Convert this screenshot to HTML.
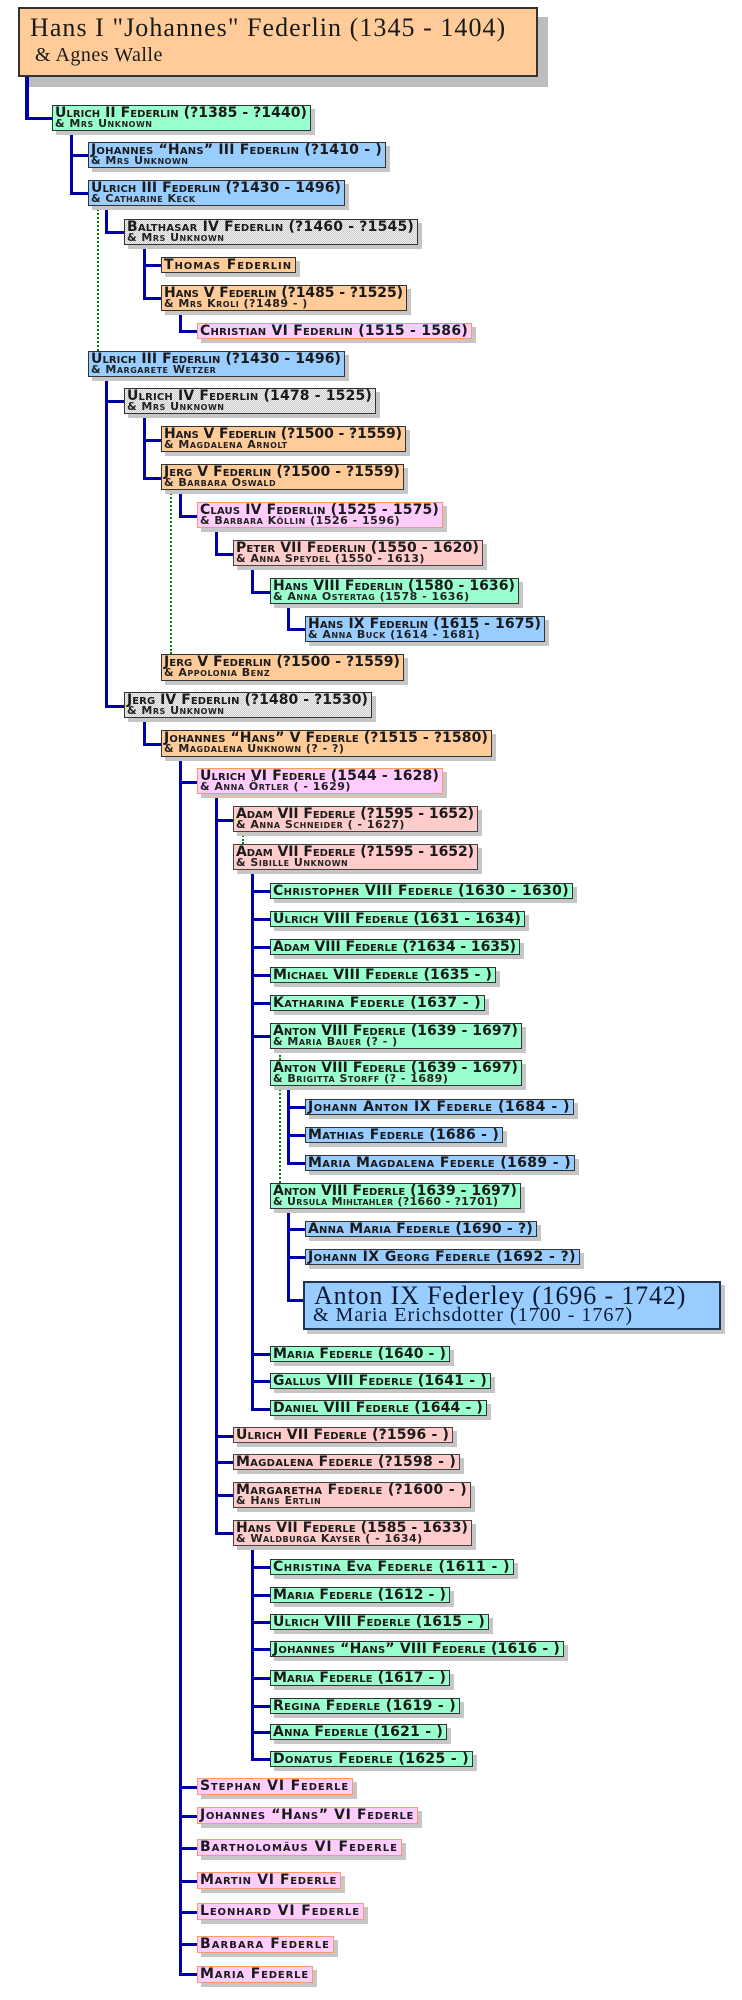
<!DOCTYPE html>
<html><head><meta charset="utf-8">
<style>
html,body{margin:0;padding:0;background:#fff;}
#pg{position:relative;width:742px;height:2000px;overflow:hidden;background:#fff;}
.b{position:absolute;box-sizing:border-box;border:1px solid #333;box-shadow:4px 4px 0 #c6c6c6;padding:1px 0 0 2px;white-space:nowrap;color:#1a1a1a;}
.n{font:bold 14px/12px "DejaVu Sans",sans-serif;font-variant:small-caps;letter-spacing:.3px;white-space:nowrap;}
.s{font:bold 11px/9px "DejaVu Sans",sans-serif;font-variant:small-caps;letter-spacing:.5px;white-space:nowrap;color:#222;}
.o{background:#ffcc99;}
.g{background:#99ffcc;}
.bl{background:#99ccff;}
.p{background:#ffccff;border-color:#ff9966;}
.r{background:#ffcccc;border-color:#444;}
.gr{background:repeating-conic-gradient(#c9c9c9 0% 25%,#f2f2f2 0% 50%) 0 0/2px 2px;}
.v{position:absolute;width:3px;background:#0000aa;}
.h{position:absolute;height:3px;background:#0000aa;}
.d{position:absolute;width:0;border-left:2px dotted #008000;}
.big{position:absolute;font-family:"Liberation Serif",serif;color:#1a1a1a;white-space:nowrap;}
</style></head><body><div id="pg">

<!-- top box -->
<div class="b o" style="left:18px;top:7px;width:520px;height:70px;border:2px solid #333;box-shadow:10px 10px 0 #bdbdbd;"></div>
<div class="big" style="left:30px;top:15px;font-size:26px;line-height:26px;letter-spacing:1.05px;">Hans I "Johannes" Federlin (1345 - 1404)</div>
<div class="big" style="left:35px;top:45px;font-size:20px;line-height:20px;letter-spacing:.5px;">&amp; Agnes Walle</div>

<!-- vertical lines -->
<div class="v" style="left:25px;top:77px;height:43px;width:4px"></div>
<div class="v" style="left:70px;top:131px;height:64px"></div>
<div class="v" style="left:105px;top:206px;height:28px"></div>
<div class="v" style="left:143px;top:245px;height:55px"></div>
<div class="v" style="left:179px;top:311px;height:22px"></div>
<div class="v" style="left:105px;top:377px;height:331px"></div>
<div class="v" style="left:143px;top:414px;height:66px"></div>
<div class="v" style="left:179px;top:490px;height:28px"></div>
<div class="v" style="left:215px;top:528px;height:28px"></div>
<div class="v" style="left:251px;top:566px;height:28px"></div>
<div class="v" style="left:287px;top:604px;height:27px"></div>
<div class="v" style="left:143px;top:718px;height:28px"></div>
<div class="v" style="left:179px;top:757px;height:1219px"></div>
<div class="v" style="left:215px;top:794px;height:741px"></div>
<div class="v" style="left:251px;top:870px;height:541px"></div>
<div class="v" style="left:287px;top:1086px;height:79px"></div>
<div class="v" style="left:287px;top:1208px;height:94px"></div>
<div class="v" style="left:251px;top:1546px;height:215px"></div>

<!-- horizontal connectors -->
<div class="h" style="left:25px;top:117px;width:27px"></div>
<div class="h" style="left:70px;top:154px;width:18px"></div>
<div class="h" style="left:70px;top:192px;width:18px"></div>
<div class="h" style="left:105px;top:231px;width:19px"></div>
<div class="h" style="left:143px;top:264px;width:18px"></div>
<div class="h" style="left:143px;top:297px;width:18px"></div>
<div class="h" style="left:179px;top:330px;width:18px"></div>
<div class="h" style="left:105px;top:400px;width:19px"></div>
<div class="h" style="left:143px;top:439px;width:18px"></div>
<div class="h" style="left:143px;top:477px;width:18px"></div>
<div class="h" style="left:179px;top:515px;width:18px"></div>
<div class="h" style="left:215px;top:553px;width:18px"></div>
<div class="h" style="left:251px;top:591px;width:19px"></div>
<div class="h" style="left:287px;top:628px;width:18px"></div>
<div class="h" style="left:105px;top:705px;width:19px"></div>
<div class="h" style="left:143px;top:743px;width:18px"></div>
<div class="h" style="left:179px;top:781px;width:18px"></div>
<div class="h" style="left:215px;top:819px;width:18px"></div>
<div class="h" style="left:251px;top:890px;width:19px"></div>
<div class="h" style="left:251px;top:918px;width:19px"></div>
<div class="h" style="left:251px;top:946px;width:19px"></div>
<div class="h" style="left:251px;top:974px;width:19px"></div>
<div class="h" style="left:251px;top:1002px;width:19px"></div>
<div class="h" style="left:251px;top:1035px;width:19px"></div>
<div class="h" style="left:287px;top:1106px;width:18px"></div>
<div class="h" style="left:287px;top:1134px;width:18px"></div>
<div class="h" style="left:287px;top:1162px;width:18px"></div>
<div class="h" style="left:287px;top:1228px;width:18px"></div>
<div class="h" style="left:287px;top:1256px;width:18px"></div>
<div class="h" style="left:287px;top:1299px;width:16px"></div>
<div class="h" style="left:251px;top:1353px;width:19px"></div>
<div class="h" style="left:251px;top:1380px;width:19px"></div>
<div class="h" style="left:251px;top:1408px;width:19px"></div>
<div class="h" style="left:215px;top:1435px;width:18px"></div>
<div class="h" style="left:215px;top:1461px;width:18px"></div>
<div class="h" style="left:215px;top:1494px;width:18px"></div>
<div class="h" style="left:215px;top:1532px;width:18px"></div>
<div class="h" style="left:251px;top:1566px;width:19px"></div>
<div class="h" style="left:251px;top:1594px;width:19px"></div>
<div class="h" style="left:251px;top:1621px;width:19px"></div>
<div class="h" style="left:251px;top:1648px;width:19px"></div>
<div class="h" style="left:251px;top:1677px;width:19px"></div>
<div class="h" style="left:251px;top:1705px;width:19px"></div>
<div class="h" style="left:251px;top:1731px;width:19px"></div>
<div class="h" style="left:251px;top:1758px;width:19px"></div>
<div class="h" style="left:179px;top:1786px;width:18px"></div>
<div class="h" style="left:179px;top:1815px;width:18px"></div>
<div class="h" style="left:179px;top:1847px;width:18px"></div>
<div class="h" style="left:179px;top:1880px;width:18px"></div>
<div class="h" style="left:179px;top:1911px;width:18px"></div>
<div class="h" style="left:179px;top:1943px;width:18px"></div>
<div class="h" style="left:179px;top:1973px;width:18px"></div>

<!-- green dotted marriage links -->
<div class="d" style="left:97px;top:206px;height:145px"></div>
<div class="d" style="left:170px;top:490px;height:164px"></div>
<div class="d" style="left:242px;top:832px;height:12px"></div>
<div class="d" style="left:279px;top:1048px;height:12px"></div>
<div class="d" style="left:279px;top:1086px;height:97px"></div>

<!-- boxes -->
<div class="b g" style="left:52px;top:105px;width:259px;height:26px"><div class="n"><span>Ulrich II Federlin (?1385 - ?1440)</span></div><div class="s">&amp; Mrs Unknown</div></div>
<div class="b bl" style="left:88px;top:142px;width:298px;height:26px"><div class="n"><span>Johannes “Hans” III Federlin (?1410 - )</span></div><div class="s">&amp; Mrs Unknown</div></div>
<div class="b bl" style="left:88px;top:180px;width:257px;height:26px"><div class="n"><span>Ulrich III Federlin (?1430 - 1496)</span></div><div class="s">&amp; Catharine Keck</div></div>
<div class="b gr" style="left:124px;top:219px;width:294px;height:26px"><div class="n"><span>Balthasar IV Federlin (?1460 - ?1545)</span></div><div class="s">&amp; Mrs Unknown</div></div>
<div class="b o" style="left:161px;top:257px;width:135px;height:16px"><div class="n"><span>Thomas Federlin</span></div></div>
<div class="b o" style="left:161px;top:285px;width:246px;height:26px"><div class="n"><span>Hans V Federlin (?1485 - ?1525)</span></div><div class="s">&amp; Mrs Kroli (?1489 - )</div></div>
<div class="b p" style="left:197px;top:323px;width:275px;height:16px"><div class="n"><span>Christian VI Federlin (1515 - 1586)</span></div></div>
<div class="b bl" style="left:88px;top:351px;width:257px;height:26px"><div class="n"><span>Ulrich III Federlin (?1430 - 1496)</span></div><div class="s">&amp; Margarete Wetzer</div></div>
<div class="b gr" style="left:124px;top:388px;width:252px;height:26px"><div class="n"><span>Ulrich IV Federlin (1478 - 1525)</span></div><div class="s">&amp; Mrs Unknown</div></div>
<div class="b o" style="left:161px;top:426px;width:245px;height:26px"><div class="n"><span>Hans V Federlin (?1500 - ?1559)</span></div><div class="s">&amp; Magdalena Arnolt</div></div>
<div class="b o" style="left:161px;top:464px;width:243px;height:26px"><div class="n"><span>Jerg V Federlin (?1500 - ?1559)</span></div><div class="s">&amp; Barbara Oswald</div></div>
<div class="b p" style="left:197px;top:502px;width:246px;height:26px"><div class="n"><span>Claus IV Federlin (1525 - 1575)</span></div><div class="s">&amp; Barbara Köllin (1526 - 1596)</div></div>
<div class="b r" style="left:233px;top:540px;width:250px;height:26px"><div class="n"><span>Peter VII Federlin (1550 - 1620)</span></div><div class="s">&amp; Anna Speydel (1550 - 1613)</div></div>
<div class="b g" style="left:270px;top:578px;width:249px;height:26px"><div class="n"><span>Hans VIII Federlin (1580 - 1636)</span></div><div class="s">&amp; Anna Ostertag (1578 - 1636)</div></div>
<div class="b bl" style="left:305px;top:616px;width:240px;height:26px"><div class="n"><span>Hans IX Federlin (1615 - 1675)</span></div><div class="s">&amp; Anna Buck (1614 - 1681)</div></div>
<div class="b o" style="left:161px;top:654px;width:243px;height:27px"><div class="n"><span>Jerg V Federlin (?1500 - ?1559)</span></div><div class="s">&amp; Appolonia Benz</div></div>
<div class="b gr" style="left:124px;top:692px;width:248px;height:26px"><div class="n"><span>Jerg IV Federlin (?1480 - ?1530)</span></div><div class="s">&amp; Mrs Unknown</div></div>
<div class="b o" style="left:161px;top:730px;width:331px;height:27px"><div class="n"><span>Johannes “Hans” V Federle (?1515 - ?1580)</span></div><div class="s">&amp; Magdalena Unknown (? - ?)</div></div>
<div class="b p" style="left:197px;top:768px;width:246px;height:26px"><div class="n"><span>Ulrich VI Federle (1544 - 1628)</span></div><div class="s">&amp; Anna Örtler ( - 1629)</div></div>
<div class="b r" style="left:233px;top:806px;width:245px;height:26px"><div class="n"><span>Adam VII Federle (?1595 - 1652)</span></div><div class="s">&amp; Anna Schneider ( - 1627)</div></div>
<div class="b r" style="left:233px;top:844px;width:245px;height:26px"><div class="n"><span>Adam VII Federle (?1595 - 1652)</span></div><div class="s">&amp; Sibille Unknown</div></div>
<div class="b g" style="left:270px;top:883px;width:303px;height:16px"><div class="n"><span>Christopher VIII Federle (1630 - 1630)</span></div></div>
<div class="b g" style="left:270px;top:911px;width:255px;height:16px"><div class="n"><span>Ulrich VIII Federle (1631 - 1634)</span></div></div>
<div class="b g" style="left:270px;top:939px;width:250px;height:16px"><div class="n"><span>Adam VIII Federle (?1634 - 1635)</span></div></div>
<div class="b g" style="left:270px;top:967px;width:226px;height:16px"><div class="n"><span>Michael VIII Federle (1635 - )</span></div></div>
<div class="b g" style="left:270px;top:995px;width:215px;height:16px"><div class="n"><span>Katharina Federle (1637 - )</span></div></div>
<div class="b g" style="left:270px;top:1023px;width:252px;height:26px"><div class="n"><span>Anton VIII Federle (1639 - 1697)</span></div><div class="s">&amp; Maria Bauer (? - )</div></div>
<div class="b g" style="left:270px;top:1060px;width:252px;height:26px"><div class="n"><span>Anton VIII Federle (1639 - 1697)</span></div><div class="s">&amp; Brigitta Storff (? - 1689)</div></div>
<div class="b bl" style="left:305px;top:1099px;width:269px;height:16px"><div class="n"><span>Johann Anton IX Federle (1684 - )</span></div></div>
<div class="b bl" style="left:305px;top:1127px;width:198px;height:16px"><div class="n"><span>Mathias Federle (1686 - )</span></div></div>
<div class="b bl" style="left:305px;top:1155px;width:270px;height:16px"><div class="n"><span>Maria Magdalena Federle (1689 - )</span></div></div>
<div class="b g" style="left:270px;top:1183px;width:251px;height:26px"><div class="n"><span>Anton VIII Federle (1639 - 1697)</span></div><div class="s" style="letter-spacing:.3px">&amp; Ursula Mihltahler (?1660 - ?1701)</div></div>
<div class="b bl" style="left:305px;top:1221px;width:232px;height:16px"><div class="n"><span>Anna Maria Federle (1690 - ?)</span></div></div>
<div class="b bl" style="left:305px;top:1249px;width:275px;height:16px"><div class="n"><span>Johann IX Georg Federle (1692 - ?)</span></div></div>

<!-- Anton IX big box -->
<div class="b bl" style="left:303px;top:1281px;width:418px;height:49px;border:2px solid #1f3555;box-shadow:4px 4px 0 #c6c6c6;"></div>
<div class="big" style="left:314px;top:1283px;font-size:26px;line-height:26px;letter-spacing:.85px;color:#0d1a33;">Anton IX Federley (1696 - 1742)</div>
<div class="big" style="left:313px;top:1305px;font-size:20px;line-height:20px;letter-spacing:1px;color:#0d1a33;">&amp; Maria Erichsdotter (1700 - 1767)</div>

<div class="b g" style="left:270px;top:1346px;width:180px;height:16px"><div class="n"><span>Maria Federle (1640 - )</span></div></div>
<div class="b g" style="left:270px;top:1373px;width:221px;height:16px"><div class="n"><span>Gallus VIII Federle (1641 - )</span></div></div>
<div class="b g" style="left:270px;top:1400px;width:217px;height:16px"><div class="n"><span>Daniel VIII Federle (1644 - )</span></div></div>
<div class="b r" style="left:233px;top:1427px;width:220px;height:16px"><div class="n"><span>Ulrich VII Federle (?1596 - )</span></div></div>
<div class="b r" style="left:233px;top:1454px;width:227px;height:16px"><div class="n"><span>Magdalena Federle (?1598 - )</span></div></div>
<div class="b r" style="left:233px;top:1482px;width:238px;height:26px"><div class="n"><span>Margaretha Federle (?1600 - )</span></div><div class="s">&amp; Hans Ertlin</div></div>
<div class="b r" style="left:233px;top:1520px;width:239px;height:26px"><div class="n"><span>Hans VII Federle (1585 - 1633)</span></div><div class="s">&amp; Waldburga Kayser ( - 1634)</div></div>
<div class="b g" style="left:270px;top:1559px;width:244px;height:16px"><div class="n"><span>Christina Eva Federle (1611 - )</span></div></div>
<div class="b g" style="left:270px;top:1587px;width:180px;height:16px"><div class="n"><span>Maria Federle (1612 - )</span></div></div>
<div class="b g" style="left:270px;top:1614px;width:219px;height:16px"><div class="n"><span>Ulrich VIII Federle (1615 - )</span></div></div>
<div class="b g" style="left:270px;top:1641px;width:294px;height:16px"><div class="n"><span>Johannes “Hans” VIII Federle (1616 - )</span></div></div>
<div class="b g" style="left:270px;top:1670px;width:180px;height:16px"><div class="n"><span>Maria Federle (1617 - )</span></div></div>
<div class="b g" style="left:270px;top:1698px;width:190px;height:16px"><div class="n"><span>Regina Federle (1619 - )</span></div></div>
<div class="b g" style="left:270px;top:1724px;width:177px;height:16px"><div class="n"><span>Anna Federle (1621 - )</span></div></div>
<div class="b g" style="left:270px;top:1751px;width:203px;height:16px"><div class="n"><span>Donatus Federle (1625 - )</span></div></div>
<div class="b p" style="left:197px;top:1778px;width:156px;height:17px"><div class="n"><span>Stephan VI Federle</span></div></div>
<div class="b p" style="left:197px;top:1807px;width:221px;height:17px"><div class="n"><span>Johannes “Hans” VI Federle</span></div></div>
<div class="b p" style="left:197px;top:1839px;width:205px;height:17px"><div class="n"><span>Bartholomäus VI Federle</span></div></div>
<div class="b p" style="left:197px;top:1872px;width:144px;height:17px"><div class="n"><span>Martin VI Federle</span></div></div>
<div class="b p" style="left:197px;top:1903px;width:167px;height:17px"><div class="n"><span>Leonhard VI Federle</span></div></div>
<div class="b p" style="left:197px;top:1936px;width:137px;height:17px"><div class="n"><span>Barbara Federle</span></div></div>
<div class="b p" style="left:197px;top:1966px;width:116px;height:17px"><div class="n"><span>Maria Federle</span></div></div>

</div>
<script>
(function(){
  var spans=document.querySelectorAll('.n span');
  for(var i=0;i<spans.length;i++){
    var sp=spans[i], line=sp.parentNode, box=line.parentNode;
    line.style.letterSpacing='0px';
    var w=sp.getBoundingClientRect().width;
    var target=box.offsetWidth-7;
    var n=sp.textContent.length;
    if(n>0){line.style.letterSpacing=((target-w)/n)+'px';}
  }
})();
</script>
</body></html>
